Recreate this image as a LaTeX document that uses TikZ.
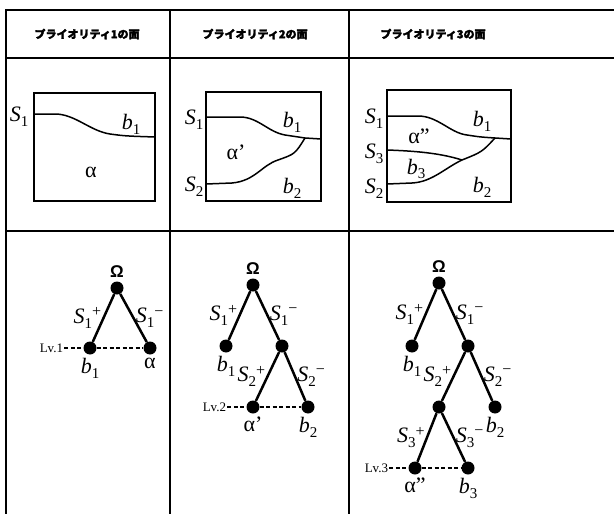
\documentclass[tikz,border=0pt]{standalone}
\usepackage{fontspec}
\setmainfont{Liberation Serif}
\newfontfamily\jpfont[BoldFeatures={FakeBold=2.5}]{Noto Sans CJK JP}
\newfontfamily\sansfont{Liberation Sans}
\usetikzlibrary{positioning}
\newcommand{\lo}[1]{\raisebox{-0.22em}{\fontsize{15}{15}\selectfont #1}}
\newcommand{\hi}[1]{\raisebox{0.3em}{\fontsize{16}{16}\selectfont #1}}
\newcommand{\sv}[1]{\textit{S}\lo{#1}}
\newcommand{\bv}[1]{\textit{b}\lo{#1}}
\tikzset{
  grid/.style={line width=1.6pt},
  frame/.style={line width=1.5pt},
  cut/.style={line width=1.5pt},
  hdr/.style={font=\jpfont\bfseries\fontsize{11}{13}\selectfont, anchor=west},
  lbl/.style={font=\fontsize{22}{24}\selectfont, inner sep=1pt},
  dot/.style={circle, fill=black, minimum size=13pt, inner sep=0pt},
  edge/.style={line width=2.5pt},
  lvl/.style={line width=1.5pt, dash pattern=on 4pt off 2.5pt},
  lvtxt/.style={font=\fontsize{13}{15}\selectfont, inner sep=1pt},
  root/.style={font=\sansfont\bfseries\fontsize{17}{20}\selectfont, inner sep=1pt},
}
\begin{document}
\begin{tikzpicture}[x=1pt, y=-1pt]
  \useasboundingbox (0,0) rectangle (614,514);

  % table
  \draw[grid] (614,10) -- (6,10) -- (6,514);
  \draw[grid] (6,58) -- (614,58);
  \draw[grid] (6,231) -- (614,231);
  \draw[grid] (170,10) -- (170,514);
  \draw[grid] (349,10) -- (349,514);

  \node[hdr] (h1) at (31,34)  {プライオリティ1の面};
  \node[hdr] (h2) at (199,34) {プライオリティ2の面};
  \node[hdr] (h3) at (377,34) {プライオリティ3の面};

  % priority 1 face
  \draw[frame] (34,93) rectangle (155,201);
  \draw[cut] (34,114) -- (55,114) .. controls (75,114) and (90,131) .. (110,134)
    .. controls (125,136) .. (155,137);
  \node[lbl] (f1s1) at (19,117) {\sv{1}};
  \node[lbl] (f1b1) at (131,124) {\bv{1}};
  \node[lbl] (f1a)  at (91,172) {α};

  % priority 2 face
  \draw[frame] (206,92) rectangle (321,201);
  \draw[cut] (206,117) -- (240,117) .. controls (258,117) and (268,132) .. (285,135)
    .. controls (295,137) .. (305,138) -- (321,139);
  \draw[cut] (206,184) -- (232,183) .. controls (255,181) and (262,165) .. (278,160)
    .. controls (295,154) .. (305,138);
  \node[lbl] (f2s1) at (194,120) {\sv{1}};
  \node[lbl] (f2s2) at (194,187) {\sv{2}};
  \node[lbl] (f2b1) at (292,122) {\bv{1}};
  \node[lbl] (f2a)  at (236,152) {α’};
  \node[lbl] (f2b2) at (292,188) {\bv{2}};

  % priority 3 face
  \draw[frame] (387,90) rectangle (511,202);
  \draw[cut] (387,116) -- (418,116) .. controls (438,116) and (450,133) .. (467,135)
    .. controls (480,137) .. (495,138) -- (511,139);
  \draw[cut] (387,150) .. controls (415,151) and (440,153) .. (462,160);
  \draw[cut] (387,184) -- (412,183) .. controls (432,182) and (445,168) .. (462,160)
    .. controls (482,152) .. (495,138);
  \node[lbl] (f3s1) at (374,119) {\sv{1}};
  \node[lbl] (f3s3) at (374,154) {\sv{3}};
  \node[lbl] (f3s2) at (374,189) {\sv{2}};
  \node[lbl] (f3b1) at (482,121) {\bv{1}};
  \node[lbl] (f3a)  at (419,136) {α”};
  \node[lbl] (f3b3) at (416,169) {\bv{3}};
  \node[lbl] (f3b2) at (482,187) {\bv{2}};

  % tree 1
  \node[dot] (t1o) at (117,288) {};
  \node[dot] (t1b1) at (90,348) {};
  \node[dot] (t1a) at (150,348) {};
  \node[root, above=3pt of t1o] {Ω};
  \draw[edge] (t1o) -- node[lbl, left=0pt] {\sv{1}\hi{+}} (t1b1);
  \draw[edge] (t1o) -- node[lbl, right=0pt] {\sv{1}\hi{−}} (t1a);
  \node[lvtxt, left=19pt of t1b1] (lv1) {Lv.1};
  \draw[lvl] (lv1) -- (t1b1) -- (t1a);
  \node[lbl, below=2pt of t1b1] {\bv{1}};
  \node[lbl, below=2pt of t1a] {α};

  % tree 2
  \node[dot] (t2o) at (253,285) {};
  \node[dot] (t2b1) at (226,346) {};
  \node[dot] (t2n) at (282,346) {};
  \node[dot] (t2a) at (253,407) {};
  \node[dot] (t2b2) at (308,407) {};
  \node[root, above=3pt of t2o] {Ω};
  \draw[edge] (t2o) -- node[lbl, left=0pt] {\sv{1}\hi{+}} (t2b1);
  \draw[edge] (t2o) -- node[lbl, right=0pt] {\sv{1}\hi{−}} (t2n);
  \draw[edge] (t2n) -- node[lbl, left=0pt] {\sv{2}\hi{+}} (t2a);
  \draw[edge] (t2n) -- node[lbl, right=0pt] {\sv{2}\hi{−}} (t2b2);
  \node[lvtxt, left=19pt of t2a] (lv2) {Lv.2};
  \draw[lvl] (lv2) -- (t2a) -- (t2b2);
  \node[lbl, below=2pt of t2b1] {\bv{1}};
  \node[lbl, below=2pt of t2a] {α’};
  \node[lbl, below=2pt of t2b2] {\bv{2}};

  % tree 3
  \node[dot] (t3o) at (439,283) {};
  \node[dot] (t3b1) at (412,346) {};
  \node[dot] (t3n) at (468,346) {};
  \node[dot] (t3m) at (439,407) {};
  \node[dot] (t3b2) at (495,407) {};
  \node[dot] (t3a) at (415,468) {};
  \node[dot] (t3b3) at (468,468) {};
  \node[root, above=3pt of t3o] {Ω};
  \draw[edge] (t3o) -- node[lbl, left=0pt] {\sv{1}\hi{+}} (t3b1);
  \draw[edge] (t3o) -- node[lbl, right=0pt] {\sv{1}\hi{−}} (t3n);
  \draw[edge] (t3n) -- node[lbl, left=0pt] {\sv{2}\hi{+}} (t3m);
  \draw[edge] (t3n) -- node[lbl, right=0pt] {\sv{2}\hi{−}} (t3b2);
  \draw[edge] (t3m) -- node[lbl, left=0pt] {\sv{3}\hi{+}} (t3a);
  \draw[edge] (t3m) -- node[lbl, right=0pt] {\sv{3}\hi{−}} (t3b3);
  \node[lvtxt, left=19pt of t3a] (lv3) {Lv.3};
  \draw[lvl] (lv3) -- (t3a) -- (t3b3);
  \node[lbl, below=2pt of t3b1] {\bv{1}};
  \node[lbl, below=2pt of t3b2] {\bv{2}};
  \node[lbl, below=2pt of t3a] {α”};
  \node[lbl, below=2pt of t3b3] {\bv{3}};
\end{tikzpicture}
\end{document}
